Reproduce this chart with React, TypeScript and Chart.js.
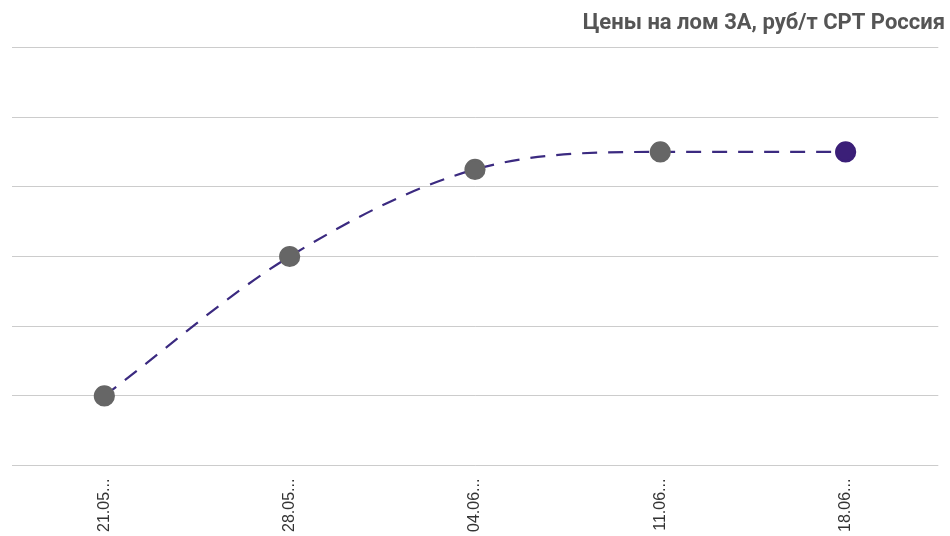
import React, { useEffect, useRef } from "react";
import { Chart, registerables } from "chart.js";

Chart.register(...registerables);

const categories = ["21.05...", "28.05...", "04.06...", "11.06...", "18.06..."];
const prices = [22000, 24000, 25250, 25500, 25500];
const pointColors = ["#666666", "#666666", "#666666", "#666666", "#3b1f78"];
const titleText = "Цены на лом 3А, руб/т CPT Россия";

export default function App() {
  const ref = useRef<HTMLCanvasElement | null>(null);
  useEffect(() => {
    document.body.style.margin = "0";
    if (!ref.current) return;
    const chart = new Chart(ref.current, {
      type: "line",
      data: {
        labels: categories,
        datasets: [
          {
            data: prices,
            borderColor: "#3b2a80",
            borderWidth: 2.2,
            borderDash: [15, 11],
            pointBackgroundColor: pointColors,
            pointBorderColor: pointColors,
            pointRadius: 9.5,
            pointHoverRadius: 9.5,
            cubicInterpolationMode: "monotone",
            fill: false,
          },
        ],
      },
      options: {
        animation: false,
        responsive: false,
        layout: { padding: { left: 10, right: 5, top: 6, bottom: -1 } },
        plugins: {
          legend: { display: false },
          tooltip: { enabled: false },
          title: {
            display: true,
            text: titleText,
            align: "end",
            color: "#555555",
            font: { family: "Roboto", size: 22, weight: "bold" },
            padding: { top: 4, bottom: 11 },
          },
        },
        scales: {
          x: {
            offset: true,
            grid: { display: false },
            border: { display: false },
            ticks: {
              minRotation: 90,
              maxRotation: 90,
              color: "#333333",
              font: { family: "Liberation Sans", size: 16 },
              padding: 5,
            },
          },
          y: {
            min: 21000,
            max: 27000,
            ticks: { display: false, stepSize: 1000 },
            border: { display: false },
            grid: { color: "#cccccc", lineWidth: 1, drawTicks: false },
          },
        },
      },
    });
    return () => chart.destroy();
  }, []);
  return (
    <div style={{ width: 950, height: 536 }}>
      <canvas ref={ref} width={950} height={536} />
    </div>
  );
}
